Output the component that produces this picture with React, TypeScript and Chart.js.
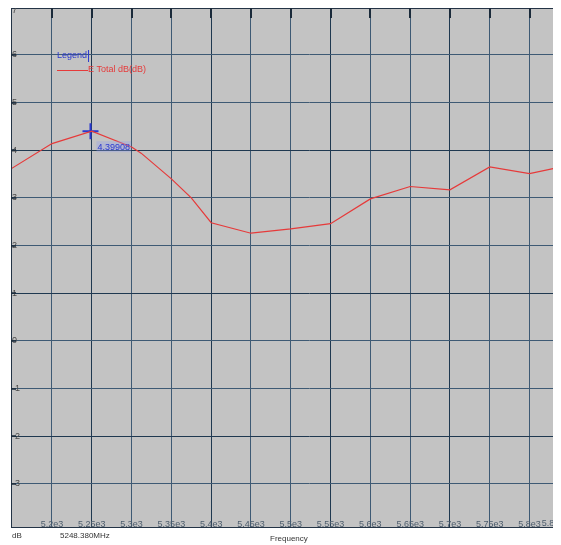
import React, { useEffect, useRef } from 'react';
import { Chart, registerables } from 'chart.js';

Chart.register(...registerables);

// ---- data ----
const frequencies = [5148.5, 5200, 5250, 5300, 5312, 5350, 5375, 5400, 5450, 5500, 5550, 5600, 5650, 5700, 5750, 5800, 5840];
const totalDb = [3.61, 4.14, 4.40, 4.07, 3.94, 3.40, 3.0, 2.48, 2.26, 2.35, 2.46, 2.98, 3.24, 3.17, 3.65, 3.51, 3.65];

const xTickValues = [5200, 5250, 5300, 5350, 5400, 5450, 5500, 5550, 5600, 5650, 5700, 5750, 5800, 5850];
const xTickLabels = ['5.2e3', '5.25e3', '5.3e3', '5.35e3', '5.4e3', '5.45e3', '5.5e3', '5.55e3', '5.6e3', '5.65e3', '5.7e3', '5.75e3', '5.8e3', '5.85e3'];
const yTickValues = [7, 6, 5, 4, 3, 2, 1, 0, -1, -2, -3];
const yTickLabels = ['7', '6', '5', '4', '3', '2', '1', '0', '-1', '-2', '-3'];
const xMajorValues = [5250, 5400, 5550, 5700, 5850];
const yMajorValues = [7, 4, 1, -2];

const markerFreq = [5248.38];
const markerDb = [4.39908];
const markerLabel = '4.39908';
const markerReadout = '5248.380MHz';
const seriesName = 'E Total dB(dB)';
const legendTitle = 'Legend';
const yUnit = 'dB';
const xTitle = 'Frequency';

const X_MIN = 5148.5;
const X_MAX = 5898.6;
const Y_MIN = -3.925;
const Y_MAX = 6.985;

const PLOT_BG = '#c3c3c3';
const GRID_MAJOR = '#1f3850';
const GRID_MINOR = '#3e5a74';
const LINE_RED = '#e63a3a';
const MARK_BLUE = '#2a38d0';
const X_LABEL_COLOR = '#4c5c6c';
const FONT = '"Liberation Sans", Arial, sans-serif';

const decorPlugin = {
  id: 'decor',
  beforeDraw(chart: any) {
    const { ctx, chartArea: a } = chart;
    ctx.save();
    ctx.fillStyle = PLOT_BG;
    ctx.fillRect(a.left, a.top, a.right - a.left, a.bottom - a.top);
    ctx.restore();
  },
  afterDraw(chart: any) {
    const { ctx, chartArea: a, scales } = chart;
    const xs = scales.x;
    const ys = scales.y;
    ctx.save();
    // border
    ctx.strokeStyle = '#243446';
    ctx.lineWidth = 1;
    ctx.strokeRect(a.left + 0.5, a.top + 0.5, a.right - a.left - 1, a.bottom - a.top - 1);
    // top tick marks
    ctx.strokeStyle = '#1a2a3a';
    ctx.lineWidth = 2;
    xTickValues.forEach((v) => {
      const px = Math.round(xs.getPixelForValue(v));
      ctx.beginPath();
      ctx.moveTo(px, a.top);
      ctx.lineTo(px, a.top + 10);
      ctx.stroke();
    });
    // left tick marks
    ctx.lineWidth = 1.5;
    yTickValues.forEach((v) => {
      const py = Math.round(ys.getPixelForValue(v));
      ctx.beginPath();
      ctx.moveTo(a.left, py);
      ctx.lineTo(a.left + 5, py);
      ctx.stroke();
    });

    ctx.font = `9px ${FONT}`;
    ctx.textBaseline = 'middle';
    ctx.textAlign = 'left';
    // top y label that sits on the border
    ctx.fillStyle = '#4a4a4a';
    ctx.fillText(yTickLabels[0], a.left + 1, Math.max(a.top + 3, ys.getPixelForValue(yTickValues[0])));

    // last x label, pulled inside its tick
    const lastI = xTickValues.length - 1;
    ctx.textAlign = 'right';
    ctx.fillStyle = X_LABEL_COLOR;
    ctx.fillText(xTickLabels[lastI], xs.getPixelForValue(xTickValues[lastI]), a.bottom - 4);
    ctx.textAlign = 'left';

    // legend
    const lx = a.left + 46;
    const ly = a.top + 48;
    ctx.fillStyle = MARK_BLUE;
    ctx.fillText(legendTitle, lx, ly);
    const tw = ctx.measureText(legendTitle).width;
    ctx.strokeStyle = MARK_BLUE;
    ctx.lineWidth = 1;
    ctx.beginPath();
    ctx.moveTo(lx + tw + 1.5, ly - 6);
    ctx.lineTo(lx + tw + 1.5, ly + 6);
    ctx.stroke();
    ctx.strokeStyle = LINE_RED;
    ctx.lineWidth = 1;
    ctx.beginPath();
    ctx.moveTo(lx, ly + 14.5);
    ctx.lineTo(lx + 31, ly + 14.5);
    ctx.stroke();
    ctx.fillStyle = LINE_RED;
    ctx.fillText(seriesName, lx + 31, ly + 14);

    // marker value label
    const mx = xs.getPixelForValue(markerFreq[0]);
    const my = ys.getPixelForValue(markerDb[0]);
    const mw = ctx.measureText(markerLabel).width;
    ctx.fillStyle = 'rgba(150,160,235,0.35)';
    ctx.fillRect(mx + 6, my + 10, mw + 2, 11);
    ctx.fillStyle = MARK_BLUE;
    ctx.fillText(markerLabel, mx + 7, my + 16);

    // bottom texts
    ctx.fillStyle = '#333';
    ctx.font = `8px ${FONT}`;
    ctx.fillText(yUnit, a.left + 1, a.bottom + 8);
    ctx.fillText(markerReadout, a.left + 49, a.bottom + 8);
    ctx.fillText(xTitle, a.left + 259, a.bottom + 11);
    ctx.restore();
  },
};

export default function App() {
  const ref = useRef<HTMLCanvasElement>(null);
  useEffect(() => {
    if (!ref.current) return;
    const chart = new Chart(ref.current, {
      type: 'line',
      data: {
        datasets: [
          {
            type: 'line',
            label: seriesName,
            data: frequencies.map((f, i) => ({ x: f, y: totalDb[i] })),
            borderColor: LINE_RED,
            borderWidth: 1.2,
            pointRadius: 0,
            pointHoverRadius: 0,
            tension: 0,
            fill: false,
          },
          {
            type: 'scatter',
            label: 'marker',
            data: markerFreq.map((f, i) => ({ x: f, y: markerDb[i] })),
            pointStyle: 'cross',
            pointRadius: 8,
            pointHoverRadius: 8,
            borderColor: MARK_BLUE,
            backgroundColor: MARK_BLUE,
            borderWidth: 2,
          },
        ],
      } as any,
      options: {
        animation: false,
        responsive: false,
        events: [],
        layout: { padding: 0, autoPadding: false },
        plugins: { legend: { display: false }, tooltip: { enabled: false } },
        scales: {
          x: {
            type: 'linear',
            min: X_MIN,
            max: X_MAX,
            afterBuildTicks: (s: any) => {
              s.ticks = xTickValues.map((v) => ({ value: v }));
            },
            afterFit: (s: any) => {
              s.height = 17;
              s.paddingLeft = 0;
              s.paddingRight = 0;
              s.paddingTop = 0;
              s.paddingBottom = 0;
            },
            border: { display: false },
            grid: {
              drawTicks: false,
              lineWidth: 1,
              color: (c: any) => (c.tick && xMajorValues.includes(c.tick.value) ? GRID_MAJOR : GRID_MINOR),
            },
            ticks: {
              mirror: true,
              padding: -1.5,
              autoSkip: false,
              maxRotation: 0,
              color: X_LABEL_COLOR,
              font: { size: 9, family: FONT },
              callback: (_v: any, i: number) => (i === xTickLabels.length - 1 ? '' : xTickLabels[i]),
            },
          },
          y: {
            type: 'linear',
            min: Y_MIN,
            max: Y_MAX,
            afterBuildTicks: (s: any) => {
              s.ticks = yTickValues.map((v) => ({ value: v }));
            },
            afterFit: (s: any) => {
              s.width = 3;
              s.paddingLeft = 0;
              s.paddingRight = 0;
              s.paddingTop = 0;
              s.paddingBottom = 0;
            },
            border: { display: false },
            grid: {
              drawTicks: false,
              lineWidth: 1,
              color: (c: any) => (c.tick && yMajorValues.includes(c.tick.value) ? GRID_MAJOR : GRID_MINOR),
            },
            ticks: {
              mirror: true,
              padding: 1,
              color: '#4a4a4a',
              font: { size: 9, family: FONT },
              callback: (_v: any, i: number) => (i === 0 ? '' : yTickLabels[i]),
            },
          },
        },
      } as any,
      plugins: [decorPlugin],
    });
    return () => chart.destroy();
  }, []);

  return (
    <div style={{ width: 553, height: 537, overflow: 'hidden', background: '#fff' }}>
      <canvas ref={ref} width={600} height={537} style={{ display: 'block' }} />
    </div>
  );
}
